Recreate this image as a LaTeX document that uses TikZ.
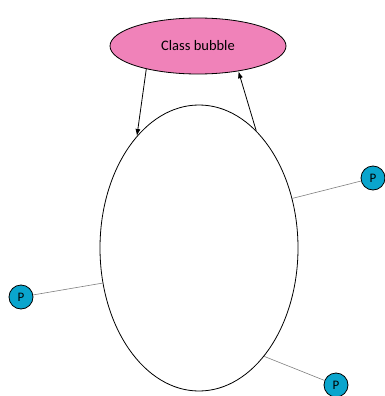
\documentclass[tikz,border=0pt]{standalone}
\usepackage{fontspec}
\setmainfont{Carlito}
\usepackage{xcolor}
\usetikzlibrary{shapes.geometric,arrows.meta}

\definecolor{bubblepink}{RGB}{240,130,185}
\definecolor{pblue}{RGB}{10,165,205}

\begin{document}
\begin{tikzpicture}[x=1pt, y=-1pt, thick]
  \tikzset{
    oval/.style={ellipse, draw=black, line width=0.8pt, inner sep=0pt},
    pnode/.style={circle, draw=black, line width=0.8pt, fill=pblue, minimum size=24pt, inner sep=0pt, font=\fontsize{13}{15}\selectfont},
    link/.style={draw=gray, line width=0.6pt},
    flow/.style={-{Latex[length=7pt,width=5pt]}, line width=0.8pt}
  }
  \useasboundingbox (0,0) rectangle (385,396);
  % --- class bubble and its body ---
  \node[oval, fill=bubblepink, minimum width=176pt, minimum height=56pt, font=\fontsize{14.5}{17}\selectfont] (bubble) at (198,46) {Class bubble};
  \node[oval, minimum width=198pt, minimum height=286pt] (body) at (199,248) {};
  \draw[flow] (bubble.204) -- (body.119);
  \draw[flow] (body.64) -- (bubble.328);
  % --- ports ---
  \node[pnode] (pright) at (373,178) {P};
  \node[pnode] (pleft) at (21,297) {P};
  \node[pnode] (pbottom) at (336,385) {P};
  \draw[link] (body.28) -- (pright);
  \draw[link] (body.200.6) -- (pleft);
  \draw[link] (body.301) -- (pbottom);
\end{tikzpicture}
\end{document}
